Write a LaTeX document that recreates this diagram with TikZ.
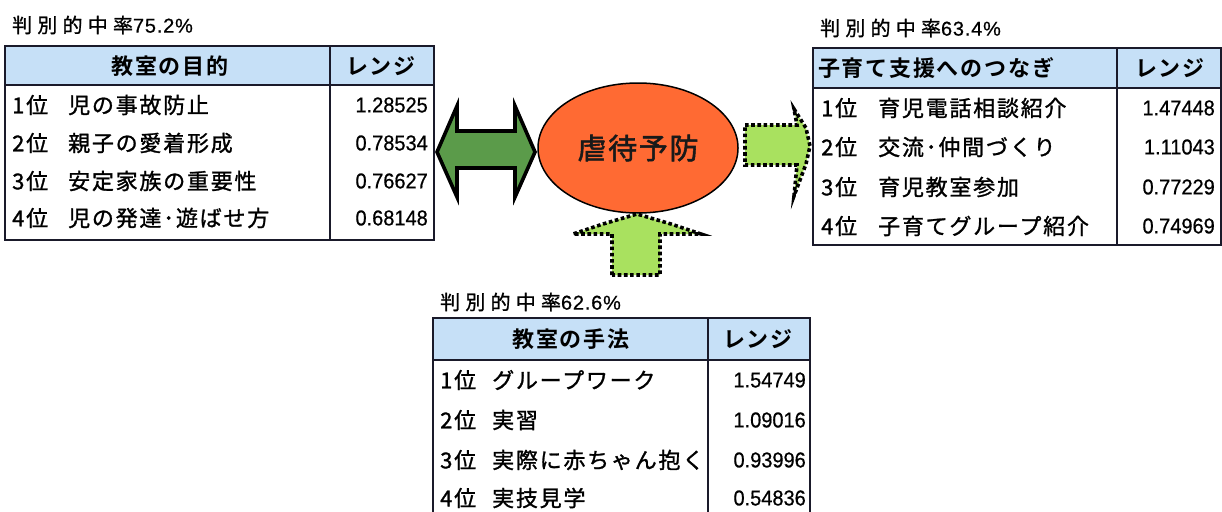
\documentclass[tikz,border=0pt]{standalone}
\usepackage{fontspec}
\usetikzlibrary{shapes.geometric}
\newfontfamily\jpitem{Noto Sans CJK JP}[LetterSpace=8,FakeBold=1.2]
\newfontfamily\jphead{Noto Sans CJK JP Bold}[LetterSpace=8]
\newfontfamily\jptitle{Noto Sans CJK JP}[LetterSpace=26,FakeBold=1]
\newfontfamily\jpbig{Noto Sans CJK JP}[LetterSpace=6,FakeBold=1.8]
\newfontfamily\numfont{Liberation Sans}[FakeStretch=0.93,FakeBold=0.6]
\newfontfamily\numplain{Liberation Sans}[FakeBold=0.6,LetterSpace=4]
\definecolor{hdrblue}{HTML}{C6E0F7}
\definecolor{dkgreen}{HTML}{5B9B4A}
\definecolor{ltgreen}{HTML}{A9E15F}
\definecolor{ovalred}{HTML}{FF6A33}
\definecolor{framec}{HTML}{1A1A2A}
\begin{document}
\begin{tikzpicture}[x=1pt,y=-1pt,
  titletxt/.style={anchor=west,inner sep=0pt,font=\jptitle\fontsize{20}{20}\selectfont},
  hdr/.style={inner sep=0pt,font=\jphead\fontsize{22}{22}\selectfont},
  hdrleft/.style={hdr,anchor=west},
  rank/.style={anchor=west,inner sep=0pt,font=\jpitem\fontsize{22}{22}\selectfont},
  itemtxt/.style={anchor=west,inner sep=0pt,font=\jpitem\fontsize{22}{22}\selectfont},
  val/.style={anchor=east,inner sep=0pt,font=\numfont\fontsize{21.5}{21.5}\selectfont},
  tblframe/.style={draw=framec,line width=1.8pt},
  tblline/.style={draw=framec,line width=1.6pt},
  dotarrow/.style={fill=ltgreen,draw=black,line width=3.6pt,dash pattern=on 3.6pt off 2.6pt,line join=miter},
  bigarrow/.style={fill=dkgreen,draw=black,line width=3.6pt,line join=miter},
]
\useasboundingbox (0,0) rectangle (1222,511);
\clip (0,0) rectangle (1222,511);

% ---- arrows ----
\draw[bigarrow] (437,152) -- (457,106) -- (457,131) -- (515,131) -- (515,106) -- (535,152)
  -- (515,197) -- (515,168) -- (457,168) -- (457,197) -- cycle;

\draw[dotarrow] (745,125) -- (797,125) -- (794,109) -- (806,128) -- (810,146) -- (806,164)
  -- (794,196) -- (797,165) -- (745,165) -- cycle;

\draw[dotarrow] (612,275) -- (612,234) -- (573,234) -- (603,224) -- (637,214) -- (671,224)
  -- (701,234) -- (660,234) -- (660,275) -- cycle;

% ---- central ellipse ----
\node[ellipse,draw=black,line width=1.5pt,fill=ovalred,minimum width=200pt,minimum height=130pt,
  inner sep=0pt,font=\jpbig\fontsize{29}{29}\selectfont,text=black!90] (C) at (638,148) {虐待予防};

% ---- left table ----
\node[titletxt] (Lt) at (12,25) {判別的中率{\numplain 75.2\%}};
\fill[white] (5,46) rectangle (434,240);
\fill[hdrblue] (5,46) rectangle (434,85);
\draw[tblline] (5,85) -- (434,85);
\draw[tblline] (330,46) -- (330,240);
\draw[tblframe] (5,46) rectangle (434,240);
\node[hdr] (Lh1) at (170,66) {教室の目的};
\node[hdr] (Lh2) at (381,66) {レンジ};
\foreach \n/\y/\t/\v in {1/105/児の事故防止/1.28525, 2/143/親子の愛着形成/0.78534,
  3/181/安定家族の重要性/0.76627, 4/218/児の発達･遊ばせ方/0.68148}{
  \node[rank] (Lr\n) at (12,\y) {\n 位};
  \node[itemtxt] (Li\n) at (68,\y) {\t};
  \node[val] (Lv\n) at (428,\y) {\v};
}

% ---- right table ----
\node[titletxt] (Rt) at (820,28) {判別的中率{\numplain 63.4\%}};
\fill[white] (813,48) rectangle (1221,245);
\fill[hdrblue] (813,48) rectangle (1221,88);
\draw[tblline] (813,88) -- (1221,88);
\draw[tblline] (1117,48) -- (1117,245);
\draw[tblframe] (813,48) rectangle (1221,245);
\node[hdrleft] (Rh1) at (818,68) {子育て支援へのつなぎ};
\node[hdr] (Rh2) at (1170,68) {レンジ};
\foreach \n/\y/\t/\v in {1/108/育児電話相談紹介/1.47448, 2/147/交流･仲間づくり/1.11043,
  3/187/育児教室参加/0.77229, 4/226/子育てグループ紹介/0.74969}{
  \node[rank] (Rr\n) at (821,\y) {\n 位};
  \node[itemtxt] (Ri\n) at (878,\y) {\t};
  \node[val] (Rv\n) at (1215,\y) {\v};
}

% ---- bottom table ----
\node[titletxt] (Bt) at (440,302) {判別的中率{\numplain 62.6\%}};
\fill[white] (433,318) rectangle (810,530);
\fill[hdrblue] (433,318) rectangle (810,360);
\draw[tblline] (433,360) -- (810,360);
\draw[tblline] (708,318) -- (708,530);
\draw[tblframe] (433,318) rectangle (810,530);
\node[hdr] (Bh1) at (571,339) {教室の手法};
\node[hdr] (Bh2) at (758,339) {レンジ};
\foreach \n/\y/\t/\v in {1/380/グループワーク/1.54749, 2/420/実習/1.09016,
  3/460/実際に赤ちゃん抱く/0.93996, 4/498/実技見学/0.54836}{
  \node[rank] (Br\n) at (440,\y) {\n 位};
  \node[itemtxt] (Bi\n) at (492,\y) {\t};
  \node[val] (Bv\n) at (806,\y) {\v};
}
\end{tikzpicture}
\end{document}
